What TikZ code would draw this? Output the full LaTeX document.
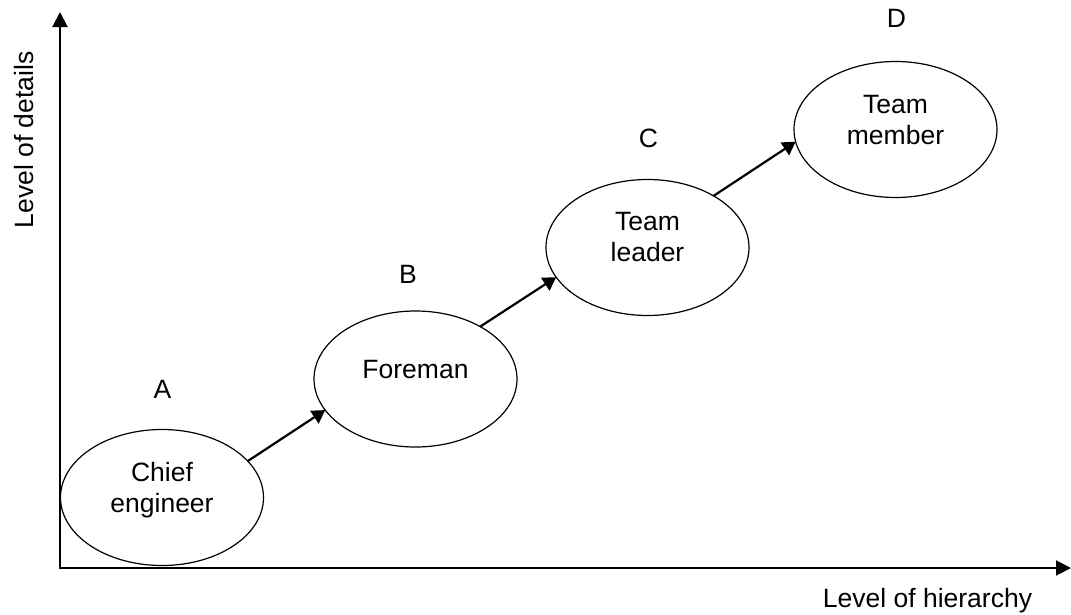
\documentclass[tikz,border=0pt]{standalone}
\usepackage{fontspec}
\setmainfont{Liberation Sans}
\usetikzlibrary{shapes.geometric,arrows.meta}
\begin{document}
\begin{tikzpicture}[x=1pt,y=-1pt,
  blob/.style={draw,ellipse,line width=1.2pt,minimum width=203pt,minimum height=136pt,inner sep=0pt,outer sep=0pt},
  inner/.style={anchor=north,align=center,inner sep=0pt,font=\fontsize{26.5}{31}\selectfont},
  lbl/.style={anchor=base,inner sep=0pt,font=\fontsize{26.5}{31}\selectfont},
  axis/.style={line width=2pt,-{Triangle[length=15pt,width=15pt]}},
  link/.style={line width=2.2pt,-{Triangle[length=13pt,width=15pt]}}]
\useasboundingbox (0,0) rectangle (1071,614);

% axes
\coordinate (O) at (60,568);
\coordinate (ytop) at (60,12);
\coordinate (xend) at (1071,568);
\draw[axis] ([yshift=-1pt]O) -- (ytop);
\draw[axis] (O) -- (xend);
\node[lbl,rotate=90] (ylab) at (33,140) {Level of details};
\node[lbl] (xlab) at (927.5,607) {Level of hierarchy};

% hierarchy levels
\node[blob] (A) at (162,497.5) {};
\node[blob] (B) at (415.5,379) {};
\node[blob] (C) at (647.5,247.5) {};
\node[blob] (D) at (895.5,129.5) {};

\node[inner] (At) at ([yshift=35pt]A.center) {Chief\\engineer};
\node[inner] (Bt) at ([yshift=19.3pt]B.center) {Foreman};
\node[inner] (Ct) at ([yshift=35.8pt]C.center) {Team\\leader};
\node[inner] (Dt) at ([yshift=34.8pt]D.center) {Team\\member};

\node[lbl] (la) at (162.5,398) {A};
\node[lbl] (lb) at (408,283) {B};
\node[lbl] (lc) at (648.5,147) {C};
\node[lbl] (ld) at (896.5,27) {D};

% progression arrows
\draw[link] (A.23) -- (B.199.5);
\draw[link] (B.39) -- (C.198);
\draw[link] (C.38) -- (D.187.8);
\end{tikzpicture}
\end{document}
